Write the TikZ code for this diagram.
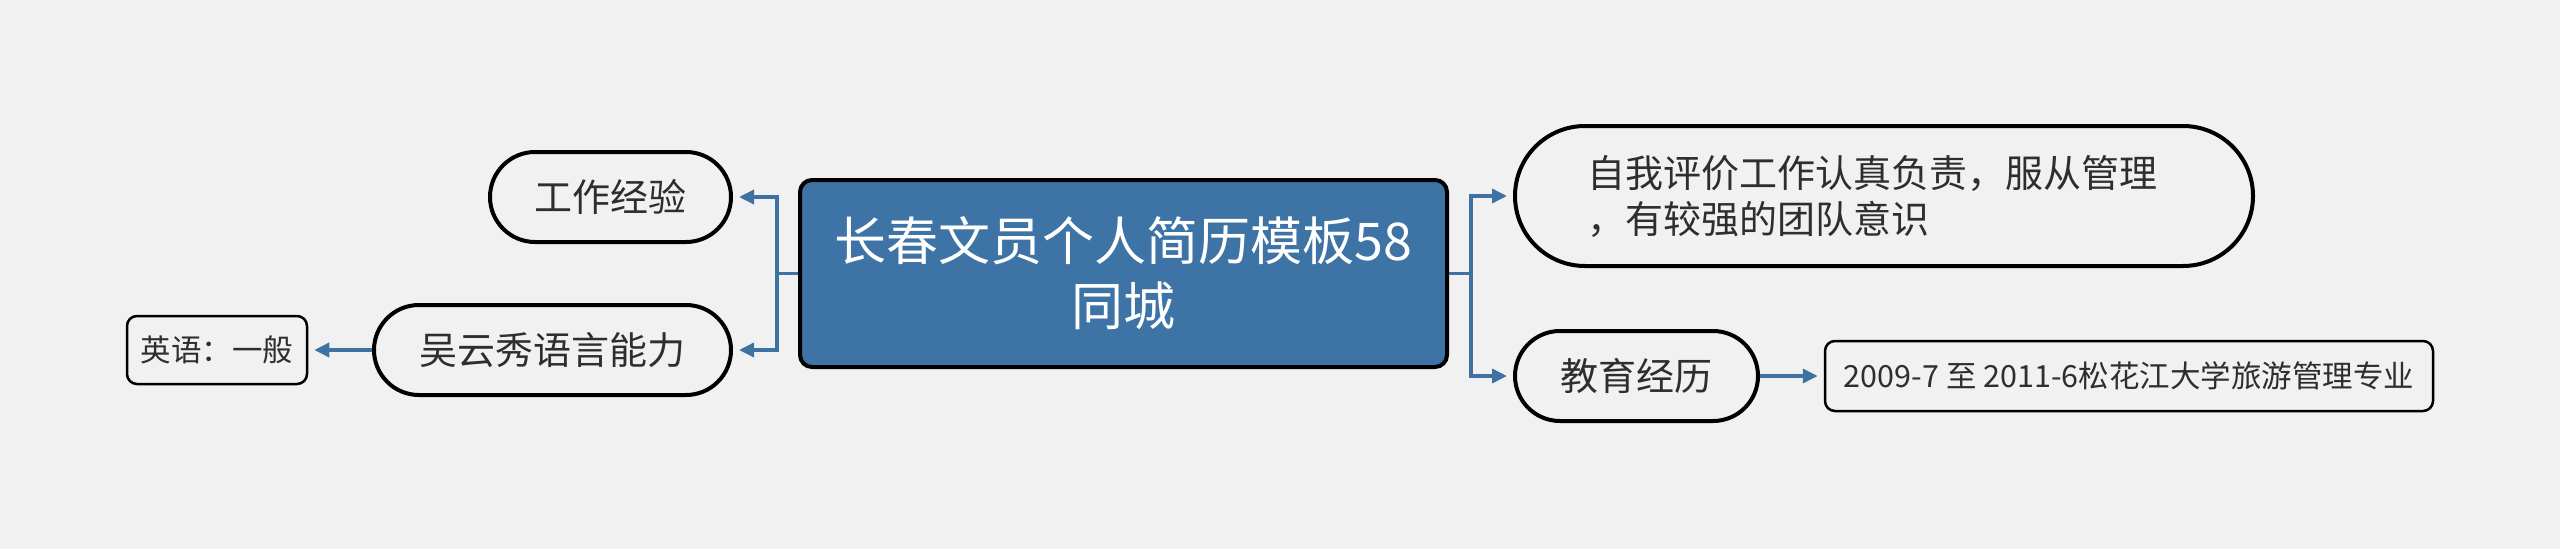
\documentclass[tikz,border=0pt]{standalone}
\usepackage{fontspec}
\setmainfont{Noto Sans CJK SC}
\usetikzlibrary{arrows.meta}
\definecolor{bg}{HTML}{F1F1F1}
\definecolor{mainblue}{HTML}{3E73A6}
\definecolor{linkblue}{HTML}{3F72A3}
\definecolor{txt}{HTML}{2E2E2E}
\tikzset{
  topic/.style={draw=black, line width=4, fill=bg, text=txt, inner sep=0,
    font=\fontsize{38}{46}\selectfont},
  leaf/.style={draw=black, line width=2.5, fill=bg, text=txt, inner sep=0,
    rounded corners=10, font=\fontsize{30.5}{36}\selectfont},
  conn/.style={draw=linkblue, line width=3.5},
  arr/.style={conn, -{Triangle[length=15,width=14]}, shorten >=6},
}
\begin{document}
\begin{tikzpicture}[x=1pt,y=-1pt]
\fill[bg] (0,0) rectangle (2560,549);
\useasboundingbox (0,0) rectangle (2560,549);

\node[draw=black, line width=4, fill=mainblue, text=white, rounded corners=12,
  minimum width=647, minimum height=187, inner sep=0, align=center,
  font=\fontsize{52}{65}\selectfont] (c) at (1123.5,273.5)
  {长春文员个人简历模板58\\同城};

\node[topic, minimum width=241, minimum height=90, rounded corners=45] (gz) at (610.5,197) {工作经验};
\node[topic, minimum width=357, minimum height=90, rounded corners=45] (yy) at (552.5,350) {吴云秀语言能力};
\node[leaf, minimum width=180, minimum height=68] (en) at (217,350) {英语：一般};

\node[topic, minimum width=738, minimum height=140, rounded corners=70,
  align=left, text width=738, inner xsep=0] (zw) at (1884,196)
  {\hspace*{72pt}\parbox{580pt}{\raggedright 自我评价工作认真负责，服从管理\\，有较强的团队意识}};
\node[topic, minimum width=243, minimum height=90, rounded corners=45] (jy) at (1636.5,376) {教育经历};
\node[leaf, minimum width=608, minimum height=70] (ed) at (2129,376) {2009-7 至 2011-6松花江大学旅游管理专业};

\coordinate (lj) at (777,273.5);
\coordinate (rj) at (1471,273.5);
\draw[conn] (c.west) -- (lj);
\draw[arr] (lj) |- (gz.east);
\draw[arr] (lj) |- (yy.east);
\draw[arr] (yy.west) -- (en.east);
\draw[conn] (c.east) -- (rj);
\draw[arr] (rj) |- (zw.west);
\draw[arr] (rj) |- (jy.west);
\draw[arr] (jy.east) -- (ed.west);
\end{tikzpicture}
\end{document}
